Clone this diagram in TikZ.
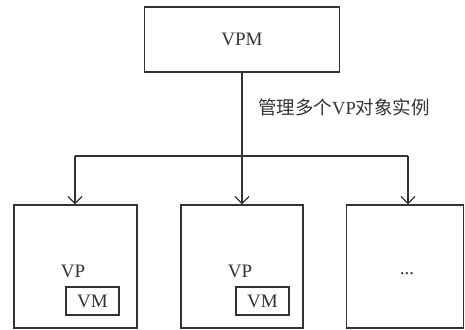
\documentclass[tikz,border=0pt]{standalone}
\usepackage{fontspec}
\setmainfont{Liberation Serif}
\newfontfamily\cjk{Noto Sans CJK SC}
\usetikzlibrary{arrows.meta}
\definecolor{ln}{HTML}{333333}
\tikzset{
  every node/.style={text=ln},
  box/.style={draw=ln, line width=1.2pt, inner sep=0pt},
  conn/.style={draw=ln, line width=1.4pt},
  arr/.style={conn, -{Straight Barb[length=7pt, width=14pt, line width=1.3pt]}},
  lbl/.style={font=\fontsize{19}{19}\selectfont, inner sep=0pt},
}
\begin{document}
\begin{tikzpicture}[x=1pt, y=-1pt]
\useasboundingbox (0,0) rectangle (465,329);
% VPM
\node[box, minimum width=195pt, minimum height=65pt] (vpm) at (242,39.5) {};
\node[lbl] (vpmt) at (vpm.center) {VPM};
% bottom boxes
\node[box, minimum width=123pt, minimum height=123pt] (vp1) at (75.5,266.5) {};
\node[box, minimum width=122pt, minimum height=123pt] (vp2) at (242,266.5) {};
\node[box, minimum width=117pt, minimum height=123pt] (vp3) at (405,266.5) {};
\node[lbl] (vp1t) at (73,271) {VP};
\node[lbl] (vp2t) at (240,271) {VP};
\node[box, minimum width=53pt, minimum height=28pt, lbl] (vm1) at (92.5,301) {VM};
\node[box, minimum width=53pt, minimum height=28pt, lbl] (vm2) at (262.5,301) {VM};
\node[lbl] (dots) at (407,274) {...};
% connectors
\coordinate (j) at (242,156);
\coordinate (l) at (75,156);
\coordinate (r) at (408,156);
\draw[conn] (j |- vpm.south) -- (j);
\draw[conn] (l) -- (r);
\draw[arr] (l) -- (l |- vp1.north);
\draw[arr] (j) -- (j |- vp2.north);
\draw[arr] (r) -- (r |- vp3.north);
\node[anchor=west, inner sep=0pt, font=\fontsize{18.5}{18.5}\selectfont] (lab) at (258,107) {{\cjk 管理多个}VP{\cjk 对象实例}};
\end{tikzpicture}
\end{document}
